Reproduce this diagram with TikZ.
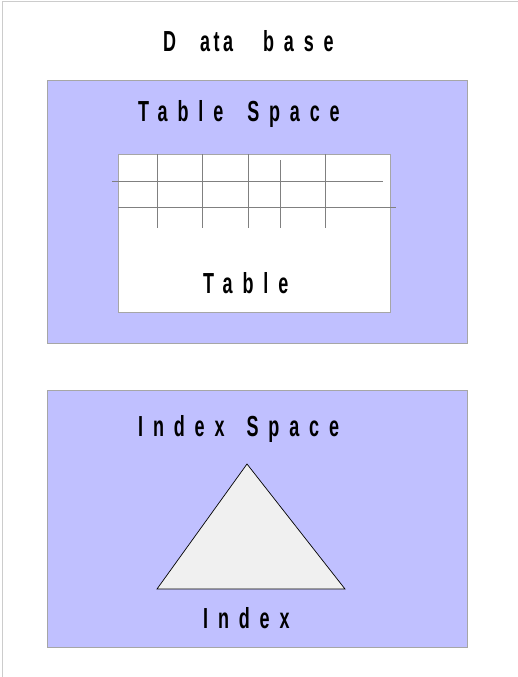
\documentclass[tikz,border=0pt]{standalone}
\usepackage{fontspec}
\setmainfont{Liberation Sans}
\newfontfamily\lblfont[FakeStretch=0.62,LetterSpace=34,BoldFont={Liberation Sans Bold}]{Liberation Sans}
\newfontfamily\dbfont[FakeStretch=0.62,LetterSpace=12,BoldFont={Liberation Sans Bold}]{Liberation Sans}
\definecolor{spacefill}{RGB}{192,192,255}
\definecolor{tri}{RGB}{240,240,240}
\begin{document}
\begin{tikzpicture}[x=1pt,y=-1pt,
  lbl/.style={inner sep=0pt,anchor=base west,font=\lblfont\bfseries\fontsize{29}{30}\selectfont},
  spacebox/.style={fill=spacefill,draw=black!35,line width=0.8pt},
  gridline/.style={draw=black!50,line width=1pt}]
\useasboundingbox (0,0) rectangle (518,677);
\draw[black!20,line width=1pt] (2,677) -- (2,2) -- (518,2);
% title
\node[lbl] (db) at (163,52) {{\dbfont\bfseries D}\hspace{24pt}{\dbfont\bfseries ata}\hspace{30pt}base};
% table space
\node[spacebox,minimum width=420pt,minimum height=263pt,anchor=north west,inner sep=0pt] (ts) at (47,80) {};
\node[lbl] (tsl) at (138,121) {Table\hspace{24pt}Space};
\node[fill=white,draw=black!35,line width=0.8pt,minimum width=272pt,minimum height=158pt,anchor=north west,inner sep=0pt] (tab) at (118,154) {};
\node[lbl] (tabl) at (203,293) {Table};
\coordinate (h1a) at (112,181); \coordinate (h1b) at (383,181);
\coordinate (h2a) at (118,207); \coordinate (h2b) at (396,207);
\draw[gridline] (h1a) -- (h1b);
\draw[gridline] (h2a) -- (h2b);
\foreach \x/\t in {157/154,202/154,248/154,280/160,325/154}{
  \draw[gridline] (\x,\t) -- (\x,228);
}
% index space
\node[spacebox,minimum width=420pt,minimum height=257pt,anchor=north west,inner sep=0pt] (is) at (47,390) {};
\node[lbl] (isl) at (138,436) {Index\hspace{22pt}Space};
\coordinate (ta) at (247,464);
\coordinate (tb) at (157,589);
\coordinate (tc) at (345,589);
\draw[fill=tri,draw=black,line width=0.7pt,line join=miter] (ta) -- (tb) -- (tc) -- cycle;
\node[lbl] (idx) at (203,628) {Index};
\end{tikzpicture}
\end{document}
